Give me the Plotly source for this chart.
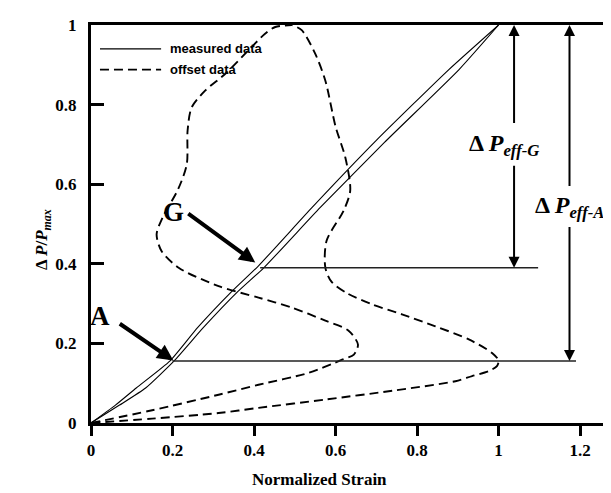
import plotly.graph_objects as go

# ---- data ----
meas_upper_x = [0, 0.06, 0.111, 0.194, 0.262, 0.345, 0.411, 0.542, 0.70, 0.878, 1.0]
meas_upper_y = [0, 0.045, 0.088, 0.156, 0.24, 0.33, 0.395, 0.541, 0.71, 0.888, 1.0]
meas_lower_x = [0, 0.07, 0.134, 0.204, 0.276, 0.36, 0.424, 0.562, 0.72, 0.903, 1.0]
meas_lower_y = [0, 0.045, 0.088, 0.156, 0.24, 0.33, 0.39, 0.541, 0.705, 0.888, 1.0]

offset_a_x = [0, 0.15, 0.313, 0.411, 0.575, 0.739, 0.894, 0.935, 0.975, 0.996, 1.0, 0.984,
              0.927, 0.845, 0.763, 0.69, 0.63, 0.59, 0.575, 0.578, 0.62, 0.636, 0.624, 0.60,
              0.575, 0.55, 0.517, 0.493]
offset_a_y = [0, 0.011, 0.025, 0.038, 0.059, 0.081, 0.105, 0.118, 0.13, 0.143, 0.157, 0.176,
              0.21, 0.243, 0.273, 0.298, 0.325, 0.355, 0.39, 0.458, 0.534, 0.584, 0.667, 0.745,
              0.86, 0.928, 0.987, 1.0]
offset_g_x = [0, 0.15, 0.313, 0.411, 0.534, 0.616, 0.645, 0.655, 0.632, 0.575, 0.493, 0.411,
              0.313, 0.215, 0.173, 0.161, 0.175, 0.214, 0.235, 0.237, 0.247, 0.28, 0.329, 0.386,
              0.427, 0.452, 0.493]
offset_g_y = [0, 0.032, 0.071, 0.096, 0.126, 0.159, 0.172, 0.197, 0.232, 0.257, 0.29, 0.315,
              0.344, 0.39, 0.432, 0.474, 0.515, 0.588, 0.65, 0.735, 0.793, 0.835, 0.877, 0.936,
              0.978, 0.995, 1.0]

level_a_x = [0.2, 1.19]
level_a_y = [0.156, 0.156]
level_g_x = [0.415, 1.097]
level_g_y = [0.39, 0.39]

x_ticks = [0, 0.2, 0.4, 0.6, 0.8, 1, 1.2]
x_tick_text = ["0", "0.2", "0.4", "0.6", "0.8", "1", "1.2"]
y_ticks = [0, 0.2, 0.4, 0.6, 0.8, 1]
y_tick_text = ["0", "0.2", "0.4", "0.6", "0.8", "1"]

legend_labels = ["measured data", "offset data"]

SERIF = "Liberation Serif"
SANS = "Liberation Sans"
DASH = "9px,5px"

fig = go.Figure()
dashed = dict(color="black", width=1.9, dash=DASH, shape="spline", smoothing=0.8)
solid = dict(color="black", width=1.1, shape="spline", smoothing=0.5)

fig.add_trace(go.Scatter(x=meas_upper_x, y=meas_upper_y, mode="lines", line=solid))
fig.add_trace(go.Scatter(x=meas_lower_x, y=meas_lower_y, mode="lines", line=solid))
fig.add_trace(go.Scatter(x=offset_a_x, y=offset_a_y, mode="lines", line=dashed))
fig.add_trace(go.Scatter(x=offset_g_x, y=offset_g_y, mode="lines", line=dashed))
fig.add_trace(go.Scatter(x=level_a_x, y=level_a_y, mode="lines", line=dict(color="#222", width=1.5)))
fig.add_trace(go.Scatter(x=level_g_x, y=level_g_y, mode="lines", line=dict(color="#222", width=1.5)))

ann = []
ann.append(dict(x=0.023, y=0.27, xref="x", yref="y", text="<b>A</b>", showarrow=False,
                font=dict(family=SERIF, size=27, color="black")))
ann.append(dict(x=0.202, y=0.157, ax=0.067, ay=0.252, xref="x", yref="y", axref="x", ayref="y",
                text="", showarrow=True, arrowhead=2, arrowsize=0.8, arrowwidth=4, arrowcolor="black"))
ann.append(dict(x=0.202, y=0.529, xref="x", yref="y", text="<b>G</b>", showarrow=False,
                font=dict(family=SERIF, size=27, color="black")))
ann.append(dict(x=0.403, y=0.403, ax=0.235, ay=0.529, xref="x", yref="y", axref="x", ayref="y",
                text="", showarrow=True, arrowhead=2, arrowsize=0.8, arrowwidth=4, arrowcolor="black"))


def varrow(x, y_from, y_to):
    return dict(x=x, y=y_to, ax=x, ay=y_from, xref="x", yref="y", axref="x", ayref="y",
                text="", showarrow=True, arrowhead=2, arrowsize=1.1, arrowwidth=2,
                arrowcolor="black")


ann += [varrow(1.038, 0.75, 1.0), varrow(1.038, 0.65, 0.39),
        varrow(1.174, 0.592, 1.0), varrow(1.174, 0.496, 0.156)]
ann.append(dict(x=1.013, y=0.698, xref="x", yref="y", showarrow=False,
                text="<b>Δ <i>P</i><sub><i>eff-G</i></sub></b>",
                font=dict(family=SERIF, size=24, color="black")))
ann.append(dict(x=1.174, y=0.542, xref="x", yref="y", showarrow=False,
                text="<b>Δ <i>P</i><sub><i>eff-A</i></sub></b>",
                font=dict(family=SERIF, size=24, color="black")))

# axis titles
ann.append(dict(x=0.56, y=0, xref="x", yref="paper", yshift=-68, showarrow=False,
                text="<b>Normalized Strain</b>", font=dict(family=SERIF, size=17, color="black")))
ann.append(dict(x=0, y=0.46, xref="paper", yref="y", xshift=-61, showarrow=False, textangle=-90,
                text="<b>Δ <i>P</i>/<i>P</i><sub><i>max</i></sub></b>",
                font=dict(family=SERIF, size=17, color="black")))

# manual legend
shapes = []
leg_rows = [(legend_labels[0], "solid", 0.94), (legend_labels[1], "dash", 0.888)]
for label, dash, yy in leg_rows:
    shapes.append(dict(type="line", xref="x", yref="y", x0=0.022, x1=0.172, y0=yy, y1=yy,
                       line=dict(color="black", width=1.1 if dash == "solid" else 1.9,
                                 dash="solid" if dash == "solid" else DASH)))
    ann.append(dict(x=0.19, y=yy, xref="x", yref="y", xanchor="left", showarrow=False,
                    text="<b>%s</b>" % label, font=dict(family=SANS, size=13, color="black")))

shapes.append(dict(type="line", xref="paper", yref="paper", x0=1, x1=1, y0=0, y1=1,
                   line=dict(color="#aaaaaa", width=1)))

tickfont = dict(family=SERIF, size=17, color="black", weight="bold")

fig.update_layout(
    width=611, height=493,
    margin=dict(l=83, r=1, t=17, b=78, autoexpand=False),
    paper_bgcolor="white", plot_bgcolor="white",
    showlegend=False,
    annotations=ann, shapes=shapes,
    xaxis=dict(range=[0, 1.293], tickvals=x_ticks, ticktext=x_tick_text, automargin=False,
               showgrid=False, zeroline=False, showline=True, linecolor="black", linewidth=3,
               mirror=True, ticks="outside", ticklen=10, tickwidth=3, tickcolor="black",
               tickfont=tickfont),
    yaxis=dict(range=[0, 1], tickvals=y_ticks, ticktext=y_tick_text, automargin=False,
               showgrid=False, zeroline=False, showline=True, linecolor="black", linewidth=3,
               ticks="inside", ticklen=13, tickwidth=3, tickcolor="black",
               ticklabelstandoff=8, tickfont=tickfont),
    font=dict(family=SERIF, color="black"),
)

fig.write_html("out.html")
